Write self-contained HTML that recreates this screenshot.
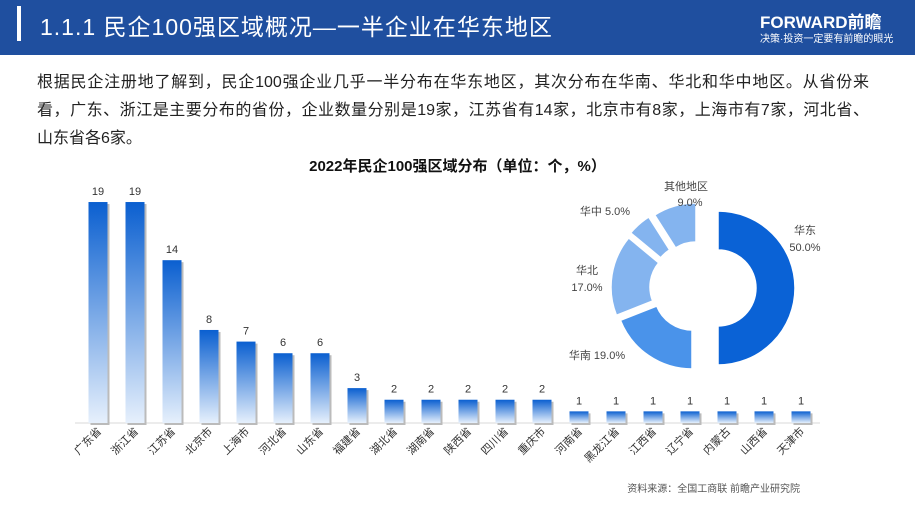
<!DOCTYPE html>
<html><head><meta charset="utf-8"><style>
body{margin:0;width:915px;height:508px;background:#fff;font-family:"Liberation Sans","Noto Sans CJK SC",sans-serif;position:relative;overflow:hidden}
.hdr{position:absolute;left:0;top:0;width:915px;height:55px;background:#1f4f9f}
.bar{position:absolute;left:17px;top:6px;width:4px;height:35px;background:#fff}
.title{position:absolute;left:40px;top:8px;color:#fff;font-size:23px;letter-spacing:1px}
.logo{position:absolute;left:760px;top:8px;color:#fff;font-size:17px;font-weight:bold}
.slog{position:absolute;left:760px;top:30px;color:#fff;font-size:10px}
.p{position:absolute;left:37px;top:69px;width:832px;font-size:16px;line-height:28px;color:#222}
.p div{white-space:nowrap;text-align:justify;text-align-last:justify;height:28px}
.ct{position:absolute;left:0;width:915px;top:155px;text-align:center;font-size:15px;font-weight:bold;color:#111}
</style></head><body>
<div class="hdr"></div><div class="bar"></div>
<div class="title">1.1.1 民企100强区域概况—一半企业在华东地区</div>
<div class="logo">FORWARD前瞻</div><div class="slog">决策·投资一定要有前瞻的眼光</div>
<div class="p"><div>根据民企注册地了解到，民企100强企业几乎一半分布在华东地区，其次分布在华南、华北和华中地区。从省份来</div><div>看，广东、浙江是主要分布的省份，企业数量分别是19家，江苏省有14家，北京市有8家，上海市有7家，河北省、</div><div style="text-align-last:left">山东省各6家。</div></div>
<div class="ct">2022年民企100强区域分布（单位：个，%）</div>
<svg width="915" height="508" style="position:absolute;left:0;top:0">
<defs><linearGradient id="g" x1="0" y1="0" x2="0" y2="1"><stop offset="0" stop-color="#0a5fd0"/><stop offset="1" stop-color="#e6f0fc"/></linearGradient></defs>
<line x1="75" y1="423" x2="820" y2="423" stroke="#d8d8d8"/>
<g font-size="11" fill="#333" text-anchor="middle" id="bars"></g>
<g fill="#444" font-size="11" text-anchor="middle">
<path d="M718,211 A77 77 0 0 1 718,365 L718,326 A38 38 0 0 0 718,250 Z" fill="#0a62d6" stroke="#fff" stroke-width="1.5"/>
<path d="M718,365 A77 77 0 0 1 646.4,316.3 L682.7,302 A38 38 0 0 0 718,326 Z" fill="#4a93ea" stroke="#fff" stroke-width="1.5" transform="translate(-26,4)"/>
<path d="M646.4,316.3 A77 77 0 0 1 658.7,238.9 L688.7,263.8 A38 38 0 0 0 682.7,302 Z" fill="#84b4ef" stroke="#fff" stroke-width="1.5" transform="translate(-30,-1)"/>
<path d="M658.7,238.9 A77 77 0 0 1 676.7,223 L697.6,255.9 A38 38 0 0 0 688.7,263.8 Z" fill="#84b4ef" stroke="#fff" stroke-width="1.5" transform="translate(-28,-6)"/>
<path d="M676.7,223 A77 77 0 0 1 718,211 L718,250 A38 38 0 0 0 697.6,255.9 Z" fill="#84b4ef" stroke="#fff" stroke-width="1.5" transform="translate(-22,-8)"/>
<text x="805" y="234">华东</text><text x="805" y="251">50.0%</text>
<text x="587" y="274">华北</text><text x="587" y="291">17.0%</text>
<text x="605" y="215">华中 5.0%</text>
<text x="686" y="190">其他地区</text><text x="690" y="206">9.0%</text>
<text x="597" y="359">华南 19.0%</text>
</g>
<text x="800" y="492" font-size="10" fill="#555" text-anchor="end">资料来源：全国工商联  前瞻产业研究院</text>
</svg>
<script>
var d=[["广东省",19],["浙江省",19],["江苏省",14],["北京市",8],["上海市",7],["河北省",6],["山东省",6],["福建省",3],["湖北省",2],["湖南省",2],["陕西省",2],["四川省",2],["重庆市",2],["河南省",1],["黑龙江省",1],["江西省",1],["辽宁省",1],["内蒙古",1],["山西省",1],["天津市",1]];
var g=document.getElementById("bars"),s="";
d.forEach(function(e,i){var cx=98+i*37.0,h=e[1]*11.63,y=423-h;
s+='<rect x="'+(cx-9.5+2)+'" y="'+(y+2)+'" width="19" height="'+h+'" fill="#bbb"/>';
s+='<rect x="'+(cx-9.5)+'" y="'+y+'" width="19" height="'+h+'" fill="url(#g)"/>';
s+='<text x="'+cx+'" y="'+(y-7)+'">'+e[1]+'</text>';
s+='<text transform="translate('+(cx+4)+',432) rotate(-45)" text-anchor="end" font-size="11">'+e[0]+'</text>';});
g.innerHTML=s;
</script>
</body></html>
